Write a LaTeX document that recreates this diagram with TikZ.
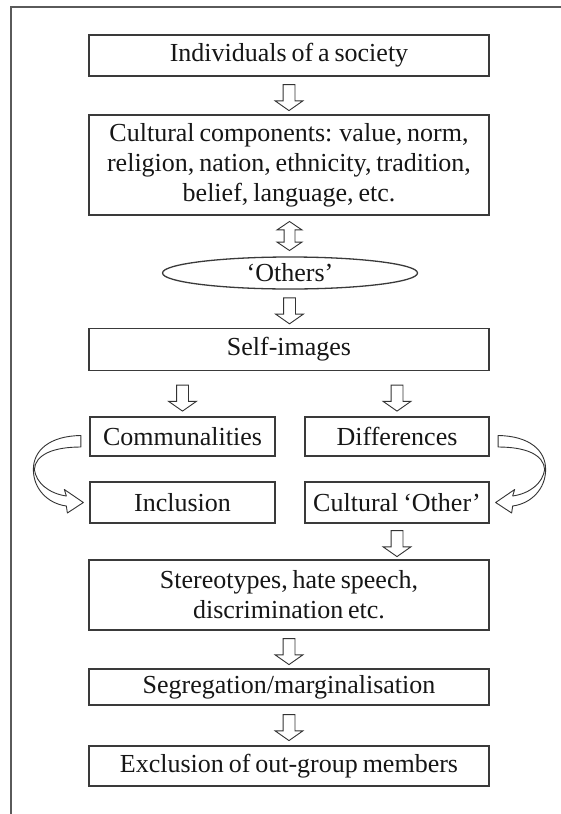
\documentclass[tikz,border=0pt]{standalone}
\usepackage{fontspec}
\setmainfont[WordSpace=0.75]{Liberation Serif}
\usetikzlibrary{shapes.geometric,shapes.arrows,calc}
\definecolor{boxc}{HTML}{3A3A3A}
\definecolor{framec}{HTML}{5A5A5A}
\definecolor{arrowc}{HTML}{333333}
\definecolor{txtc}{HTML}{161616}
\begin{document}
\begin{tikzpicture}[x=1pt,y=-1pt,
  box/.style={draw=boxc, line width=1.3pt, inner sep=0pt, text=txtc, align=center,
    font=\fontsize{26}{30}\selectfont, minimum width=400pt},
  colbox/.style={box, minimum width=185pt},
  blockarrow/.style={single arrow, draw=arrowc, fill=white, line width=0.9pt,
    minimum height=26pt, inner xsep=0pt, inner ysep=5.5pt,
    single arrow head extend=8pt, single arrow tip angle=110, rotate=-90},
  dblarrow/.style={double arrow, draw=arrowc, fill=white, line width=0.9pt,
    minimum height=29pt, inner xsep=0pt, inner ysep=5pt,
    double arrow head extend=7pt, double arrow tip angle=112, rotate=-90},
  curvearrow/.style={draw=arrowc, fill=white, line width=0.9pt, line join=round}
]
\clip (0,0) rectangle (561,814);
\fill[white] (0,0) rectangle (561,814);
\draw[framec, line width=2pt] (10.5,830) -- (10.5,6.5) -- (580,6.5);

\node[box, minimum height=41pt] (b1) at (289,55.5) {Individuals of a society};
\node[box, minimum height=100pt] (b2) at (289,165) {Cultural components: value, norm,\\religion, nation, ethnicity, tradition,\\belief, language, etc.};
\node[ellipse, draw=boxc, line width=1.3pt, inner sep=0pt, minimum width=255pt, minimum height=32pt,
  text=txtc, font=\fontsize{26}{30}\selectfont] (oth) at (290,273) {‘Others’};
\node[box, minimum height=42pt] (self) at (289,349.5) {Self-images};
\node[colbox, minimum height=39pt] (comm) at (182.5,436.5) {Communalities};
\node[colbox, minimum width=184pt, minimum height=39pt] (diff) at (397,436.5) {Differences};
\node[colbox, minimum height=41pt] (incl) at (182.5,502.5) {Inclusion};
\node[colbox, minimum width=184pt, minimum height=41pt] (cother) at (397,502.5) {Cultural ‘Other’};
\node[box, minimum height=70pt] (stereo) at (289,595) {Stereotypes, hate speech,\\discrimination etc.};
\node[box, minimum height=36pt] (segr) at (289,687) {Segregation/marginalisation};
\node[box, minimum height=40pt] (excl) at (289,766) {Exclusion of out-group members};

\node[blockarrow] (a1) at ($(b1.south)!0.5!(b2.north)$) {};
\node[dblarrow] (a2) at ($(b2.south)!0.5!(oth.north)$) {};
\node[blockarrow] (a3) at ($(oth.south)!0.5!(self.north)$) {};
\node[blockarrow] (a4) at ($(self.south -| comm)!0.55!(comm.north)$) {};
\node[blockarrow] (a5) at ($(self.south -| diff)!0.55!(diff.north)$) {};
\node[blockarrow] (a6) at ($(cother.south)!0.5!(stereo.north -| cother)$) {};
\node[blockarrow] (a7) at ($(stereo.south)!0.5!(segr.north)$) {};
\node[blockarrow] (a8) at ($(segr.south)!0.5!(excl.north)$) {};

\begin{scope}[shift={(comm.west)}]
\draw[curvearrow] (-8.5,-1) .. controls (-40,-0.5) and (-56,14) .. (-56,33)
  .. controls (-56,52) and (-42,67) .. (-23,69.5)
  -- (-22,76.5) -- (-6,66) -- (-25,53) -- (-23,59.5)
  .. controls (-40,57) and (-53,47) .. (-55,33)
  .. controls (-54,18) and (-36,10.5) .. (-8.5,10.5) -- cycle;
\end{scope}
\begin{scope}[shift={(diff.east)}, xscale=-1]
\draw[curvearrow] (-8.5,-1) .. controls (-40,-0.5) and (-56,14) .. (-56,33)
  .. controls (-56,52) and (-42,67) .. (-23,69.5)
  -- (-22,76.5) -- (-6,66) -- (-25,53) -- (-23,59.5)
  .. controls (-40,57) and (-53,47) .. (-55,33)
  .. controls (-54,18) and (-36,10.5) .. (-8.5,10.5) -- cycle;
\end{scope}
\end{tikzpicture}
\end{document}
